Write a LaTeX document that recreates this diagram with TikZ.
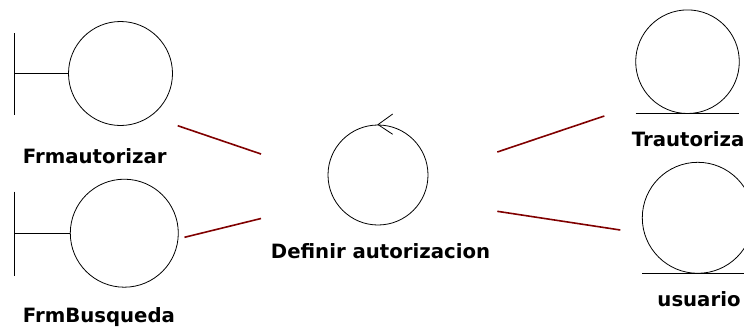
\documentclass[tikz,border=0pt]{standalone}
\usepackage{fontspec}
\setmainfont{DejaVu Sans}
\begin{document}
\begin{tikzpicture}[x=1pt,y=-1pt,
  shapeline/.style={draw=black,line width=0.8pt},
  obj/.style={circle,shapeline,inner sep=0pt},
  lbl/.style={font=\bfseries\fontsize{19.7}{22}\selectfont,inner sep=0pt,anchor=base},
  assoc/.style={draw=red!50!black,line width=1.6pt}]
\useasboundingbox (0,0) rectangle (744,327);
% boundary Frmautorizar
\node[obj,minimum size=104pt] (fa) at (120.5,73.5) {};
\coordinate (fabar) at (14.3,73.5);
\draw[shapeline] (14.3,33) -- (14.3,115);
\draw[shapeline] (fabar) -- (fa.west);
\node[lbl,anchor=base west] (fal) at (22.7,163) {Frmautorizar};
% boundary FrmBusqueda
\node[obj,minimum size=108pt] (fb) at (124.3,233.2) {};
\coordinate (fbbar) at (14.3,233.2);
\draw[shapeline] (14.3,191.7) -- (14.3,276);
\draw[shapeline] (fbbar) -- (fb.west);
\node[lbl,anchor=base west] (fbl) at (22.7,322.7) {FrmBusqueda};
% control
\node[obj,minimum size=100pt] (ct) at (378,175) {};
\draw[shapeline] (392.7,114) -- (ct.north) -- (392.7,134.3);
\node[lbl] (ctl) at (380.5,258) {Definir autorizacion};
% entity Trautoriza
\node[obj,minimum size=103.6pt] (tr) at (687.5,61.7) {};
\draw[shapeline] (635.7,113.3) -- (739.3,113.3);
\node[lbl,anchor=base west] (trl) at (631.7,146.7) {Trautoriza};
% entity usuario
\node[obj,minimum size=111pt] (us) at (697.8,217.8) {};
\draw[shapeline] (642.3,273.3) -- (744,273.3);
\node[lbl] (usl) at (699,306) {usuario};
% connector end points
\coordinate (a1) at (177.7,125.7);
\coordinate (a2) at (261,154);
\coordinate (b1) at (184.5,237.3);
\coordinate (b2) at (261,218.5);
\coordinate (c1) at (497.3,152);
\coordinate (c2) at (604.3,116);
\coordinate (d1) at (497.3,211.3);
\coordinate (d2) at (620.3,230);
\draw[assoc] (a1) -- (a2);
\draw[assoc] (b1) -- (b2);
\draw[assoc] (c1) -- (c2);
\draw[assoc] (d1) -- (d2);
\end{tikzpicture}
\end{document}
